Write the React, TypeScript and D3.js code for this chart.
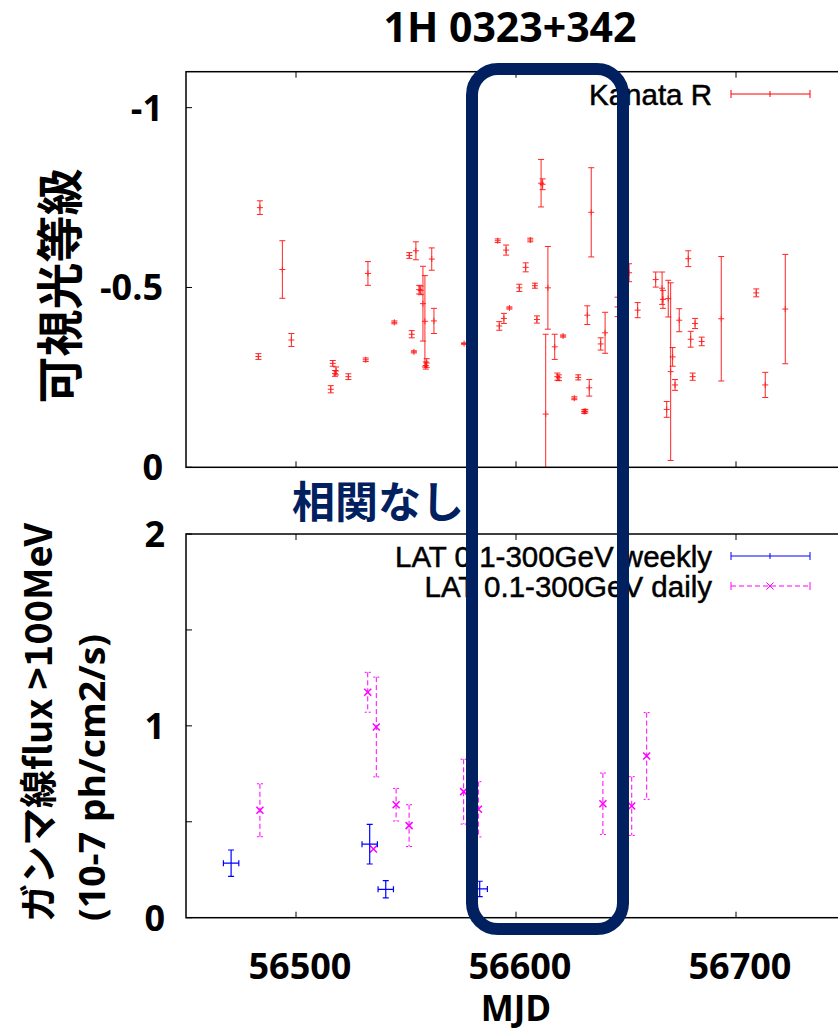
import React from "react";
import * as d3 from "d3";

// ---------- Data ----------
const kanataMJD = [56483.6, 56493.8, 56497.9, 56482.9, 56516.7, 56518.2, 56517.7, 56523.8, 56515.8, 56531.7, 56532.7, 56544.7, 56551.5, 56554.5, 56561.7, 56552.6, 56553.6, 56556.0, 56556.7, 56557.7, 56558.6, 56559.4, 56559.0, 56562.7, 56576.4, 56591.7, 56595.5, 56592.4, 56594.5, 56597.0, 56604.4, 56601.5, 56606.5, 56608.6, 56609.5, 56611.4, 56612.1, 56614.5, 56613.5, 56617.6, 56621.4, 56618.8, 56619.5, 56626.5, 56628.3, 56631.0, 56631.5, 56632.4, 56634.2, 56633.3, 56638.5, 56640.5, 56646.2, 56651.4, 56655.3, 56663.5, 56666.4, 56666.8, 56669.2, 56670.3, 56671.2, 56672.3, 56668.5, 56674.2, 56678.3, 56681.4, 56679.4, 56684.4, 56680.3, 56693.3, 56709.2, 56713.3, 56722.4];
const kanataMag = [-0.722, -0.55, -0.354, -0.308, -0.289, -0.268, -0.261, -0.252, -0.217, -0.299, -0.539, -0.403, -0.589, -0.602, -0.579, -0.37, -0.321, -0.494, -0.492, -0.455, -0.406, -0.29, -0.283, -0.407, -0.344, -0.63, -0.604, -0.393, -0.414, -0.443, -0.556, -0.499, -0.632, -0.505, -0.411, -0.79, -0.787, -0.499, -0.148, -0.335, -0.365, -0.252, -0.249, -0.192, -0.25, -0.155, -0.156, -0.423, -0.709, -0.221, -0.343, -0.374, -0.446, -0.541, -0.437, -0.522, -0.498, -0.467, -0.469, -0.266, -0.307, -0.229, -0.161, -0.409, -0.58, -0.4, -0.356, -0.35, -0.252, -0.413, -0.485, -0.229, -0.44];
const kanataErr = [0.019, 0.08, 0.018, 0.008, 0.008, 0.011, 0.008, 0.008, 0.01, 0.005, 0.033, 0.004, 0.008, 0.025, 0.031, 0.01, 0.003, 0.012, 0.012, 0.104, 0.127, 0.012, 0.01, 0.035, 0.002, 0.005, 0.014, 0.012, 0.014, 0.003, 0.0125, 0.01, 0.005, 0.007, 0.01, 0.066, 0.015, 0.115, 0.222, 0.035, 0.003, 0.01, 0.008, 0.004, 0.007, 0.005, 0.005, 0.026, 0.124, 0.023, 0.017, 0.057, 0.027, 0.025, 0.021, 0.021, 0.045, 0.025, 0.051, 0.247, 0.026, 0.015, 0.022, 0.032, 0.022, 0.014, 0.022, 0.012, 0.01, 0.173, 0.011, 0.035, 0.152];

const weeklyMJD = [56470.5, 56533.5, 56540.8, 56583.5];
const weeklyFlux = [0.284, 0.383, 0.148, 0.15];
const weeklyFluxErr = [0.069, 0.103, 0.045, 0.04];
const weeklyMJDErr = [3.5, 3.5, 3.5, 3.5];

const dailyMJD = [56483.6, 56532.6, 56536.5, 56535.2, 56545.5, 56551.4, 56576.2, 56582.9, 56639.5, 56652.6, 56659.4];
const dailyFlux = [0.56, 1.175, 0.994, 0.358, 0.589, 0.48, 0.657, 0.565, 0.594, 0.582, 0.843];
const dailyErr = [0.138, 0.104, 0.26, 0.0, 0.085, 0.109, 0.169, 0.144, 0.16, 0.153, 0.226];

const xTicks = [56500, 56600, 56700];
const topYTicks = [-1, -0.5, 0];
const topYLabels = ["-1", "-0.5", "0"];
const botYTicks = [0, 0.5, 1, 1.5, 2];
const botYLabels = ["0", "1", "2"];
const botYLabelVals = [0, 1, 2];

const W = 838;
const H = 1031;
const LEFT = 186;
const RIGHT = 846;
const TOP1 = 71.7, BOT1 = 467.3;
const TOP2 = 534, BOT2 = 917.7;

const xScale = d3.scaleLinear().domain([56450, 56750]).range([LEFT, RIGHT]);
const yTop = d3.scaleLinear().domain([0, -1.1]).range([BOT1, TOP1]);
const yBot = d3.scaleLinear().domain([0, 2]).range([BOT2, TOP2]);

const TICKFONT = "'Open Sans', 'DejaVu Sans', sans-serif";
const LEGFONT = "'Liberation Sans', Arial, sans-serif";
const CJK = "'Noto Sans CJK JP', 'Noto Sans', sans-serif";
const NAVY = "#002060";

function clampY(v: number, y: d3.ScaleLinear<number, number>) {
  const [r0, r1] = y.range();
  return Math.max(Math.min(v, Math.max(r0, r1)), Math.min(r0, r1));
}

export default function App() {
  const cap = 3;
  return (
    <svg width={W} height={H} style={{ position: "absolute", left: 0, top: 0, background: "#fff" }}>
      <defs>
        <clipPath id="c1"><rect x={LEFT} y={TOP1} width={RIGHT - LEFT} height={BOT1 - TOP1} /></clipPath>
        <clipPath id="c2"><rect x={LEFT} y={TOP2} width={RIGHT - LEFT} height={BOT2 - TOP2} /></clipPath>
      </defs>
      <rect x={0} y={0} width={W} height={H} fill="#fff" />

      {/* Title */}
      <text x={510} y={42} textAnchor="middle" fontFamily={TICKFONT} fontWeight="bold" fontSize={41}>1H 0323+342</text>

      {/* ----- Top panel ----- */}
      <g clipPath="url(#c1)">
        {kanataMJD.map((m, i) => {
          const x = xScale(m);
          const y = yTop(kanataMag[i]);
          const y0 = clampY(yTop(kanataMag[i] - kanataErr[i]), yTop);
          const y1 = clampY(yTop(kanataMag[i] + kanataErr[i]), yTop);
          return (
            <g key={i} stroke="#ff0000" strokeWidth={1} opacity={0.85}>
              <line x1={x} x2={x} y1={y0} y2={y1} />
              {y0 > TOP1 && <line x1={x - cap} x2={x + cap} y1={y0} y2={y0} />}
              {y1 < BOT1 && <line x1={x - cap} x2={x + cap} y1={y1} y2={y1} />}
              <line x1={x - 3} x2={x + 3} y1={y} y2={y} />
              <line x1={x} x2={x} y1={y - 3} y2={y + 3} />
            </g>
          );
        })}
      </g>
      {/* frame top */}
      <rect x={LEFT} y={TOP1} width={RIGHT - LEFT} height={BOT1 - TOP1} fill="none" stroke="#000" strokeWidth={1.5} />
      {xTicks.map((t) => (
        <g key={"tx" + t} stroke="#000" strokeWidth={1}>
          <line x1={xScale(t)} x2={xScale(t)} y1={TOP1} y2={TOP1 + 6} />
          <line x1={xScale(t)} x2={xScale(t)} y1={BOT1} y2={BOT1 - 6} />
        </g>
      ))}
      {topYTicks.map((t, i) => (
        <g key={"ty" + t}>
          <line x1={LEFT} x2={LEFT + 6} y1={yTop(t)} y2={yTop(t)} stroke="#000" strokeWidth={1} />
          <text x={163} y={yTop(t)} dy="0.36em" textAnchor="end" fontFamily={TICKFONT} fontWeight="bold" fontSize={36}>{topYLabels[i]}</text>
        </g>
      ))}
      {/* top legend */}
      <text x={712} y={94} dy="0.36em" textAnchor="end" fontFamily={LEGFONT} fontSize={29.5} stroke="#000" strokeWidth={0.5}>Kanata R</text>
      <g stroke="#ff0000" strokeWidth={1}>
        <line x1={731} x2={810} y1={94} y2={94} />
        <line x1={731} x2={731} y1={90} y2={98} />
        <line x1={810} x2={810} y1={90} y2={98} />
        <line x1={770} x2={770} y1={91} y2={97} />
      </g>
      <text x={60} y={286} transform="rotate(-90 60 286)" textAnchor="middle" dy="0.36em" fontFamily={CJK} fontWeight="bold" fontSize={47}>可視光等級</text>

      {/* ----- Bottom panel ----- */}
      <g clipPath="url(#c2)">
        {dailyMJD.map((m, i) => {
          const x = xScale(m);
          const y = yBot(dailyFlux[i]);
          const y0 = yBot(dailyFlux[i] + dailyErr[i]);
          const y1 = yBot(dailyFlux[i] - dailyErr[i]);
          return (
            <g key={"d" + i} stroke="#ff00ff" strokeWidth={1}>
              {dailyErr[i] > 0 && (
                <>
                  <line x1={x} x2={x} y1={y0} y2={y1} strokeDasharray="5,3" />
                  <line x1={x - cap} x2={x + cap} y1={y0} y2={y0} strokeDasharray="2,2" />
                  <line x1={x - cap} x2={x + cap} y1={y1} y2={y1} strokeDasharray="2,2" />
                </>
              )}
              <line x1={x - 3.5} x2={x + 3.5} y1={y - 3.5} y2={y + 3.5} strokeWidth={1.5} />
              <line x1={x - 3.5} x2={x + 3.5} y1={y + 3.5} y2={y - 3.5} strokeWidth={1.5} />
            </g>
          );
        })}
        {weeklyMJD.map((m, i) => {
          const x = xScale(m);
          const y = yBot(weeklyFlux[i]);
          const y0 = yBot(weeklyFlux[i] + weeklyFluxErr[i]);
          const y1 = yBot(weeklyFlux[i] - weeklyFluxErr[i]);
          const x0 = xScale(m - weeklyMJDErr[i]);
          const x1 = xScale(m + weeklyMJDErr[i]);
          return (
            <g key={"w" + i} stroke="#0000ff" strokeWidth={1.2}>
              <line x1={x} x2={x} y1={y0} y2={y1} />
              <line x1={x - cap} x2={x + cap} y1={y0} y2={y0} />
              <line x1={x - cap} x2={x + cap} y1={y1} y2={y1} />
              <line x1={x0} x2={x1} y1={y} y2={y} />
              <line x1={x0} x2={x0} y1={y - cap} y2={y + cap} />
              <line x1={x1} x2={x1} y1={y - cap} y2={y + cap} />
            </g>
          );
        })}
      </g>
      <rect x={LEFT} y={TOP2} width={RIGHT - LEFT} height={BOT2 - TOP2} fill="none" stroke="#000" strokeWidth={1.5} />
      {xTicks.map((t) => (
        <g key={"bx" + t}>
          <line x1={xScale(t)} x2={xScale(t)} y1={TOP2} y2={TOP2 + 6} stroke="#000" strokeWidth={1} />
          <line x1={xScale(t)} x2={xScale(t)} y1={BOT2} y2={BOT2 - 6} stroke="#000" strokeWidth={1} />
          <text x={xScale(t) + 4} y={966} dy="0.36em" textAnchor="middle" fontFamily={TICKFONT} fontWeight="bold" fontSize={36}>{String(t)}</text>
        </g>
      ))}
      {botYTicks.map((t) => (
        <line key={"byt" + t} x1={LEFT} x2={LEFT + 6} y1={yBot(t)} y2={yBot(t)} stroke="#000" strokeWidth={1} />
      ))}
      {botYLabelVals.map((t, i) => (
        <text key={"byl" + t} x={165} y={yBot(t)} dy="0.36em" textAnchor="end" fontFamily={TICKFONT} fontWeight="bold" fontSize={36}>{botYLabels[i]}</text>
      ))}
      <text x={516} y={1008} dy="0.36em" textAnchor="middle" fontFamily={TICKFONT} fontWeight="bold" fontSize={35}>MJD</text>

      {/* bottom legend */}
      <text x={712} y={556} dy="0.36em" textAnchor="end" fontFamily={LEGFONT} fontSize={29.5} stroke="#000" strokeWidth={0.5}>LAT 0.1-300GeV weekly</text>
      <g stroke="#0000ff" strokeWidth={1}>
        <line x1={731} x2={810} y1={556} y2={556} />
        <line x1={731} x2={731} y1={552} y2={560} />
        <line x1={810} x2={810} y1={552} y2={560} />
        <line x1={770} x2={770} y1={553} y2={559} />
      </g>
      <text x={712} y={586} dy="0.36em" textAnchor="end" fontFamily={LEGFONT} fontSize={29.5} stroke="#000" strokeWidth={0.5}>LAT 0.1-300GeV daily</text>
      <g stroke="#ff00ff" strokeWidth={1}>
        <line x1={731} x2={810} y1={586} y2={586} strokeDasharray="5,3" />
        <line x1={731} x2={731} y1={582} y2={590} />
        <line x1={810} x2={810} y1={582} y2={590} />
        <line x1={766.5} x2={773.5} y1={582.5} y2={589.5} />
        <line x1={766.5} x2={773.5} y1={589.5} y2={582.5} />
      </g>

      <text x={38} y={922} transform="rotate(-90 38 922)" dy="0.36em" textAnchor="start" fontFamily={CJK} fontWeight="bold" fontSize={38}>ガンマ線flux &gt;100MeV</text>
      <text x={92} y={921} transform="rotate(-90 92 921)" dy="0.36em" textAnchor="start" fontFamily={TICKFONT} fontWeight="bold" fontSize={35} textLength={287} lengthAdjust="spacingAndGlyphs">(10-7 ph/cm2/s)</text>

      {/* annotation */}
      <rect x={472} y={69} width={151} height={860} rx={26} ry={26} fill="none" stroke={NAVY} strokeWidth={12} />
      <text x={292} y={503} dy="0.36em" textAnchor="start" fontFamily={CJK} fontWeight="bold" fontSize={43} fill={NAVY}>相関なし</text>
    </svg>
  );
}
